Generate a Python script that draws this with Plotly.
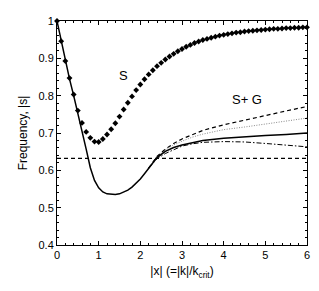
import plotly.graph_objects as go

# S (diamonds)
s_x = [round(0.1 * i, 1) for i in range(61)]
s_y = [1.0, 0.946, 0.893, 0.847, 0.803, 0.760, 0.727, 0.703, 0.687, 0.677,
       0.676, 0.684, 0.696, 0.710, 0.726, 0.744, 0.763, 0.781, 0.798, 0.815,
       0.830, 0.844, 0.857, 0.868, 0.879, 0.888, 0.897, 0.905, 0.912, 0.919,
       0.925, 0.931, 0.936, 0.941, 0.945, 0.949, 0.952, 0.955, 0.958, 0.961,
       0.963, 0.965, 0.967, 0.969, 0.970, 0.972, 0.973, 0.974, 0.975, 0.976,
       0.977, 0.978, 0.979, 0.979, 0.980, 0.981, 0.981, 0.982, 0.982, 0.983, 0.983]

# common part of S+G curves
base_x = [0, 0.1, 0.2, 0.3, 0.4, 0.5, 0.6, 0.7, 0.8, 0.9, 1.0, 1.1, 1.2, 1.3, 1.4,
          1.5, 1.6, 1.7, 1.8, 1.9, 2.0, 2.1, 2.2]
base_y = [1.0, 0.946, 0.893, 0.845, 0.800, 0.755, 0.708, 0.657, 0.607, 0.573,
          0.553, 0.542, 0.537, 0.535, 0.535, 0.537, 0.541, 0.547, 0.555, 0.565,
          0.577, 0.591, 0.606]

tail_x = [2.3, 2.4, 2.6, 2.8, 3.0, 3.25, 3.5, 4.0, 4.5, 5.0, 5.5, 6.0]
solid_tail = [0.621, 0.634, 0.651, 0.661, 0.668, 0.675, 0.680, 0.686, 0.690, 0.693, 0.696, 0.700]
dashed_tail = [0.622, 0.637, 0.657, 0.672, 0.684, 0.696, 0.707, 0.722, 0.735, 0.747, 0.759, 0.771]
dotted_tail = [0.622, 0.636, 0.655, 0.668, 0.678, 0.689, 0.697, 0.709, 0.716, 0.724, 0.731, 0.740]
dashdot_tail = [0.620, 0.631, 0.645, 0.656, 0.665, 0.671, 0.675, 0.677, 0.676, 0.672, 0.668, 0.663]

threshold = 0.632

fig = go.Figure()

fig.add_trace(go.Scatter(x=[0, 6], y=[threshold, threshold], mode="lines",
                         line=dict(color="black", width=1.2, dash="4px,3px")))
fig.add_trace(go.Scatter(x=base_x[-1:] + tail_x, y=base_y[-1:] + dotted_tail, mode="lines",
                         line=dict(color="#888888", width=1, dash="1px,1.5px")))
fig.add_trace(go.Scatter(x=base_x[-1:] + tail_x, y=base_y[-1:] + dashdot_tail, mode="lines",
                         line=dict(color="black", width=1, dash="5px,2px,1.5px,2px")))
fig.add_trace(go.Scatter(x=base_x[-1:] + tail_x, y=base_y[-1:] + dashed_tail, mode="lines",
                         line=dict(color="black", width=1.2, dash="4px,3px")))
fig.add_trace(go.Scatter(x=base_x + tail_x, y=base_y + solid_tail, mode="lines",
                         line=dict(color="black", width=1.5)))
fig.add_trace(go.Scatter(x=s_x, y=s_y, mode="markers", cliponaxis=False,
                         marker=dict(symbol="diamond", size=4.5, color="black")))

fig.add_annotation(x=1.6, y=0.855, text="S", showarrow=False,
                   font=dict(size=13, color="black"))
fig.add_annotation(x=4.55, y=0.79, text="S+ G", showarrow=False,
                   font=dict(size=13, color="black"))

axis_common = dict(showline=True, linecolor="black", linewidth=1, mirror="ticks",
                   ticks="inside", ticklen=4, tickcolor="black", showgrid=False,
                   zeroline=False, tickfont=dict(size=11, color="black"))

fig.update_xaxes(range=[0, 6], tickvals=[0, 1, 2, 3, 4, 5, 6],
                 minor=dict(dtick=0.2, ticks="inside", ticklen=2, tickcolor="black"),
                 title=dict(text="|x| (=|k|/k<sub>crit</sub>)", font=dict(size=12, color="black"),
                            standoff=6),
                 **axis_common)
fig.update_yaxes(range=[0.4, 1], tickvals=[0.4, 0.5, 0.6, 0.7, 0.8, 0.9, 1.0],
                 ticktext=["0.4", "0.5", "0.6", "0.7", "0.8", "0.9", "1"],
                 minor=dict(dtick=0.02, ticks="inside", ticklen=2, tickcolor="black"),
                 title=dict(text="Frequency, |s|", font=dict(size=12, color="black"),
                            standoff=8),
                 **axis_common)

fig.update_layout(width=319, height=291, showlegend=False,
                  margin=dict(l=49, r=20, t=7, b=54),
                  plot_bgcolor="white", paper_bgcolor="white",
                  font=dict(family="Liberation Sans, Arial, sans-serif", color="black"))

fig.write_html("out.html")
